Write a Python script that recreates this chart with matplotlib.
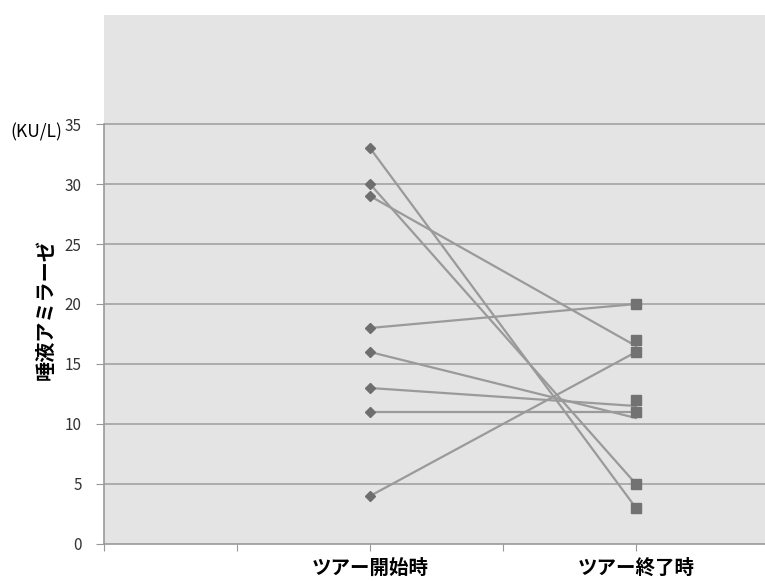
import matplotlib
matplotlib.use('Agg')
import matplotlib.pyplot as plt

plt.rcParams['font.family'] = ['Noto Sans CJK JP', 'DejaVu Sans']

# データ
x_labels = ['ツアー開始時', 'ツアー終了時']
x_pos = [2, 4]
start_vals = [33, 30, 29, 18, 16, 13, 11, 4]
line_end_vals = [3, 5, 16.5, 20, 10.5, 11.5, 11, 16]
end_marker_vals = [20, 17, 16, 12, 11, 5, 3]
y_ticks = [0, 5, 10, 15, 20, 25, 30, 35]

fig = plt.figure(figsize=(7.65, 5.81), dpi=100)
ax = fig.add_axes([104 / 765, 1 - 544 / 581, 1 - 104 / 765, (544 - 15) / 581])
ax.set_facecolor('#e4e4e4')

# 折れ線
for s, e in zip(start_vals, line_end_vals):
    ax.plot(x_pos, [s, e], color='#9a9a9a', linewidth=1.6, zorder=2)

# マーカー
ax.plot([x_pos[0]] * len(start_vals), start_vals, linestyle='none', marker='D',
        markersize=5, color='#6e6e6e', zorder=3)
ax.plot([x_pos[1]] * len(end_marker_vals), end_marker_vals, linestyle='none', marker='s',
        markersize=7, color='#727272', zorder=3)

ax.set_xlim(0, 661 / 133)
ax.set_ylim(0, 529 / 12)

# グリッド
for y in y_ticks[1:]:
    ax.axhline(y, color='#a8a8a8', linewidth=1.3, zorder=1)

ax.set_yticks(y_ticks)
ax.set_yticklabels([str(v) for v in y_ticks], fontsize=11, color='#333333')
ax.set_xticks([0, 1, 2, 3, 4])
ax.set_xticklabels([])
ax.tick_params(axis='y', direction='out', length=6, color='#999999', pad=10)
ax.tick_params(axis='x', direction='out', length=5, color='#999999')

for xp, lab in zip(x_pos, x_labels):
    ax.text(xp, -2.0, lab, ha='center', va='center', fontsize=14, fontweight='bold',
            transform=ax.transData)

for side in ['top', 'right']:
    ax.spines[side].set_visible(False)
ax.spines['left'].set_bounds(0, 35)
ax.spines['left'].set_color('#999999')
ax.spines['bottom'].set_color('#999999')
ax.spines['left'].set_linewidth(1.2)
ax.spines['bottom'].set_linewidth(1.2)

fig.text(45 / 765, 1 - 310 / 581, '唾液アミラーゼ', rotation=90, ha='center', va='center',
         fontsize=14.5, fontweight='bold')
fig.text(36 / 765, 1 - 132 / 581, '(KU/L)', ha='center', va='center', fontsize=12.5)

fig.savefig('out.png', dpi=100)
